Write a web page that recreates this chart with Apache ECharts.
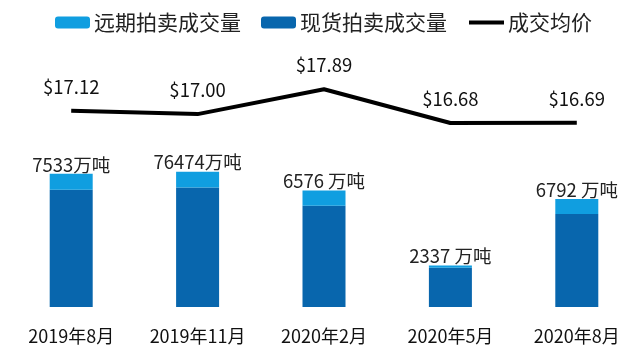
<!DOCTYPE html>
<html>
<head>
<meta charset="utf-8">
<script src="https://cdn.jsdelivr.net/npm/echarts@6/dist/echarts.min.js"></script>
<style>
  html, body { margin: 0; padding: 0; background: #fff; }
  #chart { width: 640px; height: 351px; }
</style>
</head>
<body>
<div id="chart"></div>
<script>
// 数据
var months = ["2019年8月", "2019年11月", "2020年2月", "2020年5月", "2020年8月"];
var spotVolume = [6630, 6750, 5730, 2220, 5260];     // 现货拍卖成交量（万吨）
var forwardVolume = [900, 900, 850, 120, 850];       // 远期拍卖成交量（万吨）
var totalLabels = ["7533万吨", "76474万吨", "6576 万吨", "2337 万吨", "6792 万吨"];
var avgPrice = [17.12, 17.00, 17.89, 16.68, 16.69];  // 成交均价

var font = "'Noto Sans CJK SC', 'Noto Sans', sans-serif";

var myChart = echarts.init(document.getElementById("chart"));

var option = {
  animation: false,
  textStyle: { fontFamily: font },
  legend: {
    top: 7,
    left: 50,
    itemGap: 20,
    itemWidth: 35,
    itemHeight: 12,
    textStyle: { fontSize: 21, color: "#222", fontFamily: font, padding: [0, 0, 0, -1] },
    data: [
      "远期拍卖成交量",
      "现货拍卖成交量",
      { name: "成交均价", itemStyle: { opacity: 0 }, lineStyle: { color: "#000", width: 4 } }
    ]
  },
  grid: { left: 8, right: -8, top: 47, bottom: 44 },
  xAxis: {
    type: "category",
    data: months,
    axisLine: { show: false },
    axisTick: { show: false },
    axisLabel: { fontSize: 18, color: "#111", margin: 20, fontFamily: font }
  },
  yAxis: [
    { type: "value", min: 0, max: 14700, show: false },
    { type: "value", min: 10.1, max: 19.4, show: false }
  ],
  series: [
    {
      name: "现货拍卖成交量",
      type: "bar",
      stack: "vol",
      barWidth: 43,
      itemStyle: { color: "#0866ad" },
      data: spotVolume
    },
    {
      name: "远期拍卖成交量",
      type: "bar",
      stack: "vol",
      barWidth: 43,
      itemStyle: { color: "#109ee0" },
      label: {
        show: true,
        position: "top",
        distance: 0,
        fontSize: 18.5,
        color: "#222",
        fontFamily: font,
        formatter: function (p) { return totalLabels[p.dataIndex]; }
      },
      data: forwardVolume
    },
    {
      name: "成交均价",
      type: "line",
      yAxisIndex: 1,
      symbol: "none",
      lineStyle: { color: "#000", width: 4 },
      itemStyle: { color: "#000" },
      data: avgPrice
    },
    {
      // 价格标签
      name: "均价标签",
      type: "scatter",
      yAxisIndex: 1,
      symbolSize: 0,
      silent: true,
      itemStyle: { opacity: 1, color: "#000" },
      label: {
        show: true,
        position: "top",
        distance: 15,
        fontSize: 18.5,
        color: "#111",
        opacity: 1,
        fontFamily: font,
        formatter: function (p) { return "$" + p.value.toFixed(2); }
      },
      data: avgPrice
    }
  ]
};

myChart.setOption(option);
</script>
</body>
</html>
